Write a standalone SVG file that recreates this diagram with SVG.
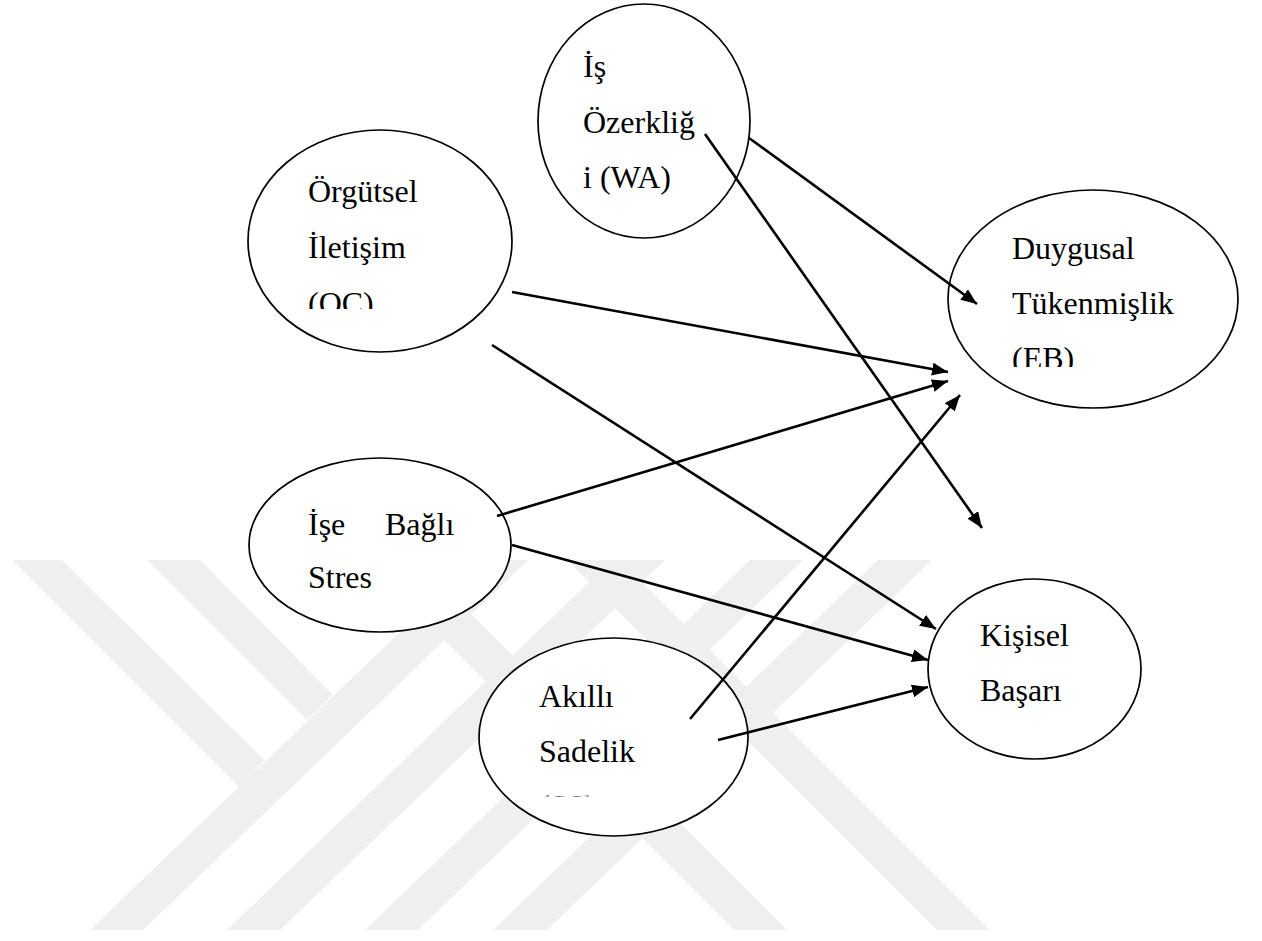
<svg xmlns="http://www.w3.org/2000/svg" width="1262" height="941" viewBox="0 0 1262 941">
  <style>
    .node { fill: #ffffff; stroke: #000000; stroke-width: 1.7; }
    .label { font-family: "Liberation Serif", "Times New Roman", serif; font-size: 32px; fill: #000000; }
    .edge { stroke: #000000; stroke-width: 2.6; fill: none; marker-end: url(#arrow); }
    .mark { fill: #efefef; }
  </style>
  <defs>
    <marker id="arrow" markerUnits="userSpaceOnUse" markerWidth="17" markerHeight="13" refX="16" refY="6.5" orient="auto">
      <path d="M0,0 L16,6.5 L0,13 Z" fill="#000000"/>
    </marker>
    <clipPath id="clip-oc"><rect x="0" y="0" width="1262" height="309"/></clipPath>
    <clipPath id="clip-eb"><rect x="0" y="0" width="1262" height="367"/></clipPath>
    <clipPath id="clip-ss"><rect x="0" y="0" width="1262" height="796.5"/></clipPath>
  </defs>

  <rect x="0" y="0" width="1262" height="941" fill="#ffffff"/>

  <!-- background emblem stripes -->
  <g id="emblem">
    <polygon class="mark" points="12,560 62,560 264,760 240,788"/>
    <polygon class="mark" points="147,560 200,560 333,695 307,720"/>
    <polygon class="mark" points="90,930 143,930 528,560 475,560"/>
    <polygon class="mark" points="227,930 280,930 665,560 612,560"/>
    <polygon class="mark" points="365,930 418,930 803,560 750,560"/>
    <polygon class="mark" points="493,930 547,930 932,560 878,560"/>
    <polygon class="mark" points="364,560 417,560 787,930 734,930"/>
    <polygon class="mark" points="567,560 620,560 990,930 937,930"/>
  </g>

  <g id="node-oc">
    <ellipse class="node" cx="380" cy="241" rx="132" ry="111"/>
    <text class="label" x="308" y="202">Örgütsel</text>
    <text class="label" x="308" y="258">İletişim</text>
    <text class="label" x="308" y="314" clip-path="url(#clip-oc)">(OC)</text>
  </g>

  <g id="node-wa">
    <ellipse class="node" cx="644" cy="121" rx="106" ry="117"/>
    <text class="label" x="583" y="77">İş</text>
    <text class="label" x="583" y="133">Özerkliğ</text>
    <text class="label" x="583" y="188">i (WA)</text>
  </g>

  <g id="node-eb">
    <ellipse class="node" cx="1093" cy="299" rx="145" ry="109"/>
    <text class="label" x="1012" y="259">Duygusal</text>
    <text class="label" x="1012" y="314">Tükenmişlik</text>
    <text class="label" x="1012" y="369" clip-path="url(#clip-eb)">(EB)</text>
  </g>

  <g id="node-stres">
    <ellipse class="node" cx="380" cy="545" rx="131" ry="87"/>
    <text class="label" x="308" y="535">İşe</text>
    <text class="label" x="385" y="535">Bağlı</text>
    <text class="label" x="308" y="588">Stres</text>
  </g>

  <g id="node-ss">
    <ellipse class="node" cx="613.5" cy="737" rx="134.5" ry="99"/>
    <text class="label" x="539" y="707">Akıllı</text>
    <text class="label" x="539" y="762">Sadelik</text>
    <text class="label" x="539" y="817" clip-path="url(#clip-ss)">(SS)</text>
  </g>

  <g id="node-kb">
    <ellipse class="node" cx="1034.5" cy="669" rx="106.5" ry="90"/>
    <text class="label" x="980" y="646">Kişisel</text>
    <text class="label" x="980" y="701">Başarı</text>
  </g>

  <g id="connectors">
    <line class="edge" x1="512" y1="292" x2="948" y2="372"/>
    <line class="edge" x1="492" y1="345" x2="936" y2="629"/>
    <line class="edge" x1="705" y1="134" x2="982" y2="528"/>
    <line class="edge" x1="749" y1="138" x2="977" y2="304"/>
    <line class="edge" x1="497" y1="516" x2="948" y2="381"/>
    <line class="edge" x1="512" y1="545" x2="928" y2="660"/>
    <line class="edge" x1="690" y1="719" x2="960" y2="395"/>
    <line class="edge" x1="718" y1="740" x2="928" y2="687"/>
  </g>
</svg>
